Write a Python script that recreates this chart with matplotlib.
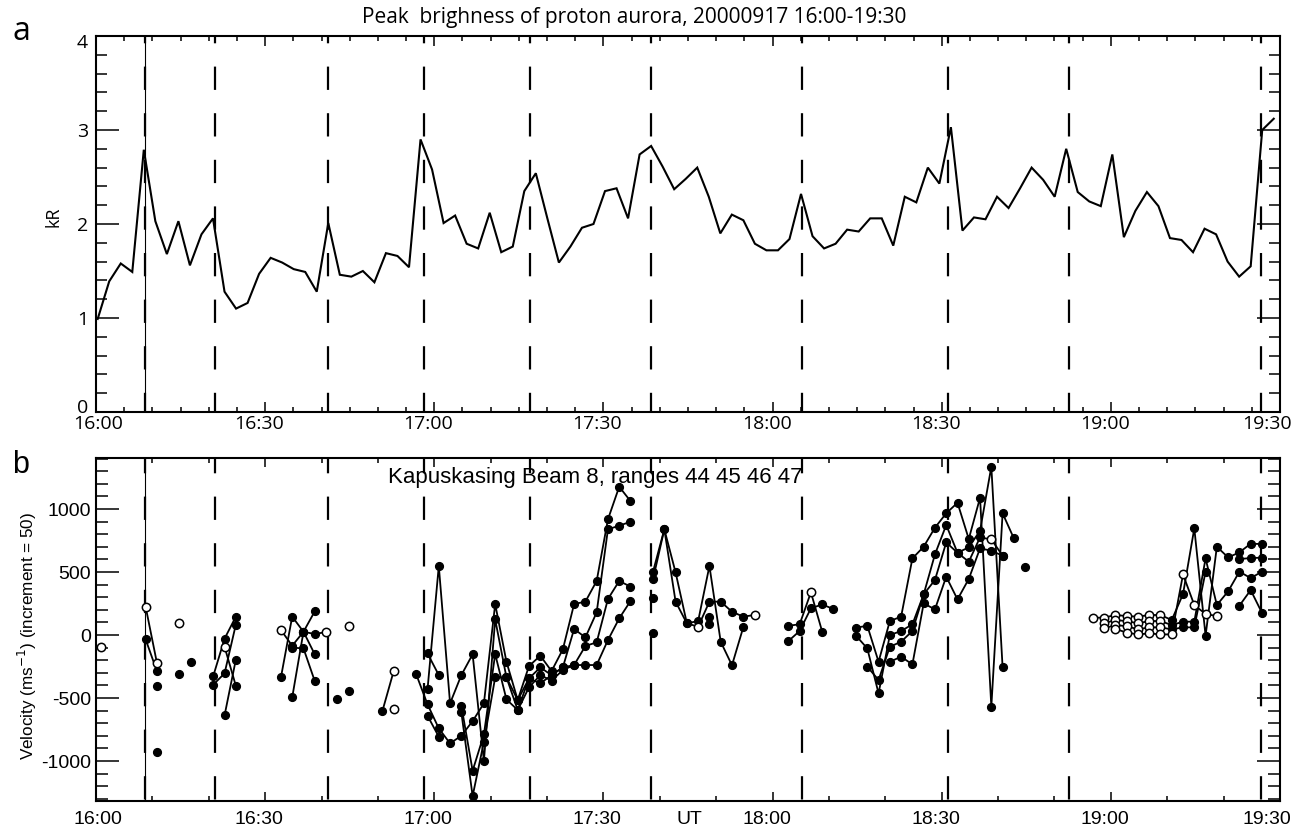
import numpy as np
import matplotlib
matplotlib.use("Agg")
import matplotlib.pyplot as plt
import matplotlib.transforms as mtrans
from matplotlib.ticker import MultipleLocator, FixedLocator

plt.rcParams['lines.scale_dashes'] = False
plt.rcParams['axes.unicode_minus'] = False

# ---------------- data ----------------
# panel a: peak brightness of proton aurora (kR), IMAGE cadence
bright_t0 = 0.3        # minutes after 16:00
bright_step = 2.045    # minutes
brightness = [0.99, 1.39, 1.58, 1.49, 2.79, 2.03, 1.68, 2.03, 1.56, 1.89,
              2.06, 1.28, 1.10, 1.16, 1.47, 1.64, 1.59, 1.52, 1.49, 1.28,
              2.01, 1.46, 1.44, 1.50, 1.38, 1.69, 1.66, 1.54, 2.90, 2.58,
              2.01, 2.09, 1.79, 1.74, 2.12, 1.70, 1.76, 2.35, 2.54, 2.06,
              1.59, 1.76, 1.96, 2.00, 2.35, 2.38, 2.06, 2.74, 2.83, 2.61,
              2.37, 2.48, 2.60, 2.29, 1.90, 2.10, 2.04, 1.79, 1.72, 1.72,
              1.84, 2.32, 1.87, 1.74, 1.79, 1.94, 1.92, 2.06, 2.06, 1.77,
              2.29, 2.23, 2.60, 2.43, 3.03, 1.93, 2.07, 2.05, 2.29, 2.17,
              2.38, 2.60, 2.47, 2.29, 2.80, 2.34, 2.24, 2.19, 2.74, 1.86,
              2.14, 2.34, 2.19, 1.85, 1.83, 1.70, 1.95, 1.89, 1.60, 1.44,
              1.55, 3.00, 3.12]

# panel b: Kapuskasing beam 8 velocities, 2-min scans (scan index k)
radar_t0 = 0.8
radar_step = 2.0
n_scans = 105

r44_k = ([0, 4, 5, 7, 10, 11, 12, 16, 17, 18, 19, 20, 22, 25, 26]
         + list(range(28, 48)) + list(range(49, 58)) + [61, 62, 63, 64]
         + list(range(67, 82)) + list(range(88, 104)))
r44_v = [-93, 225, -220, 98, -325, -29, 146, 40, -85, 26, 8, 24, 71, -603, -286,
         -312, -550, -741, -860, -799, -683, -542, 246, -212, -516, -246, -164,
         -286, -114, 246, 265, 429, 918, 1177, 1063,
         503, 839, 497, 93, 111, 548, -53, -240, 61,
         74, 85, 339, 27,
         58, 74, -212, 111, 146, 608, 701, 852, 966, 1050, 762, 1090, -569, 966, 767,
         138, 138, 159, 151, 146, 159, 159, 119, 325, 847, -5, 701, 616, 656, 725, 722]
r44_open = [0, 4, 5, 7, 16, 20, 22, 26, 63, 88, 89, 90, 91, 92, 93, 94]

r45_k = ([4, 5, 7, 10, 11, 12, 16, 17, 18, 19, 21, 26]
         + list(range(29, 48)) + list(range(49, 59)) + list(range(61, 66))
         + list(range(67, 81)) + [82] + list(range(89, 104)))
r45_v = [-34, -286, -310, -394, -304, 82, -336, 146, 26, 188, -511, -590,
         -431, 548, -542, -318, -153, -1000, 124, -336, -595, -344, -257, -318,
         -257, 48, -19, 180, 839, 868, 899,
         444, 839, 265, 93, 66, 265, 265, 185, 146, 159,
         -48, 32, 212, 243, 206,
         -5, -106, -463, 0, 32, 85, 323, 640, 873, 653, 696, 828, 1336, -257,
         542,
         93, 119, 111, 93, 111, 111, 79, 106, 106, 608, 238, 347, 503, 452, 503]
r45_open = [26, 53, 58, 89, 90, 91, 92, 93, 94]

r46_k = ([5, 8, 11, 12, 17, 18, 19, 22, 29, 30] + list(range(32, 48)) + [49, 54]
         + list(range(68, 81)) + list(range(89, 99)) + [101, 102, 103])
r46_v = [-402, -214, -93, -402, -100, -106, -365, -444, -146, -318,
         -561, -1077, -789, -151, -511, -595, -415, -318, -362, -278, -238, -87,
         -58, 286, 429, 384,
         291, 140,
         -251, -357, -93, -53, 32, 323, 437, 735, 653, 582, 775, 759, 630,
         53, 79, 71, 45, 61, 61, 45, 61, 61, 503,
         603, 611, 614]
r46_open = [11, 79, 89, 90, 91, 92, 93, 94]

r47_k = ([5, 11, 12, 17, 18, 19, 29, 30] + list(range(32, 48)) + [49, 54]
         + list(range(70, 81)) + list(range(90, 100)) + [101, 102, 103])
r47_v = [-926, -638, -196, -495, 26, -153, -640, -807,
         -614, -1278, -847, -336, -336, -516, -344, -384, -318, -257, -238, -238,
         -238, -40, 132, 270,
         13, 87,
         -212, -172, -233, 251, 204, 463, 283, 445, 688, 669, 630,
         48, 20, 5, 13, 5, 5, 481, 238, 167, 151,
         233, 357, 176]
r47_open = [90, 91, 92, 93, 94, 95, 96, 97, 98, 99]

# event times (minutes after 16:00)
event_solid = 8.7
event_dashed = [8.7, 21.1, 41.1, 58.2, 77.0, 98.4, 125.2, 151.2, 172.5, 206.6]

time_labels = ['16:00', '16:30', '17:00', '17:30', '18:00', '18:30', '19:00', '19:30']
time_ticks = [0, 30, 60, 90, 120, 150, 180, 210]

# ---------------- figure ----------------
W, H = 1302, 832
fig = plt.figure(figsize=(W / 100, H / 100), dpi=100)

def rect(l, t, r, b):
    return [l / W, 1 - b / H, (r - l) / W, (b - t) / H]

ax1 = fig.add_axes(rect(96, 36, 1280, 412))
ax2 = fig.add_axes(rect(96, 458, 1280, 801))

font_a = 'Open Sans'
font_b = 'Liberation Sans'
PX = 0.72  # points per pixel at 100 dpi


def shift(label, dx_px, dy_px):
    label.set_transform(label.get_transform() +
                        mtrans.ScaledTranslation(dx_px / 100, dy_px / 100, fig.dpi_scale_trans))


for ax in (ax1, ax2):
    for sp in ax.spines.values():
        sp.set_linewidth(1.5)
    ax.set_xlim(0, 210)
    ax.xaxis.set_major_locator(FixedLocator(time_ticks))
    ax.tick_params(which='both', direction='in', top=True, right=True, width=1.1)

# ---- panel a ----
bt = bright_t0 + bright_step * np.arange(len(brightness))
ax1.plot(bt, brightness, color='black', lw=1.5, solid_joinstyle='miter')
ax1.set_ylim(0, 4)
ax1.yaxis.set_major_locator(MultipleLocator(1))
ax1.yaxis.set_minor_locator(MultipleLocator(0.2))
ax1.xaxis.set_minor_locator(MultipleLocator(5))
ax1.tick_params(axis='y', which='major', length=23 * PX, pad=8 * PX)
ax1.tick_params(axis='y', which='minor', length=11 * PX)
ax1.tick_params(axis='x', which='major', length=10 * PX, pad=3 * PX)
ax1.tick_params(axis='x', which='minor', length=5 * PX)
ax1.set_yticks([0, 1, 2, 3, 4])
ylabs = ax1.set_yticklabels(['0', '1', '2', '3', '4'], fontfamily=font_a, fontsize=14)
# end labels sit inside the axis range, as in the original
shift(ylabs[0], 0, 6)
shift(ylabs[-1], 0, -5)

# ---- panel b ----
rt = radar_t0 + radar_step * np.arange(n_scans)
for ks, vs, op in ((r44_k, r44_v, r44_open), (r45_k, r45_v, r45_open),
                   (r46_k, r46_v, r46_open), (r47_k, r47_v, r47_open)):
    series = np.full(n_scans, np.nan)
    series[ks] = vs
    ax2.plot(rt, series, color='black', lw=1.3, zorder=3)
    filled = [k for k in ks if k not in op]
    ax2.plot(rt[filled], series[filled], 'o', color='black', ms=5.6, zorder=4)
    ax2.plot(rt[op], series[op], 'o', mfc='white', mec='black', mew=1.1, ms=6.0, zorder=5)

ax2.set_ylim(-1317, 1405)
ax2.yaxis.set_major_locator(FixedLocator([-1000, -500, 0, 500, 1000]))
ax2.yaxis.set_minor_locator(MultipleLocator(100))
ax2.xaxis.set_minor_locator(MultipleLocator(10))
ax2.tick_params(axis='y', which='major', length=23 * PX, pad=5 * PX)
ax2.tick_params(axis='y', which='minor', length=12 * PX)
ax2.tick_params(axis='x', which='major', length=9 * PX, pad=10 * PX)
ax2.tick_params(axis='x', which='minor', length=5 * PX)
ax2.set_yticklabels(['-1000', '-500', '0', '500', '1000'], fontfamily=font_b, fontsize=14)

# x tick labels: slightly left of their ticks, last one kept inside the figure
for ax, fam in ((ax1, font_a), (ax2, font_b)):
    labs = ax.set_xticklabels(time_labels, fontfamily=fam, fontsize=14)
    for i, lab in enumerate(labs):
        if i == 0:
            shift(lab, 2, 0)
        elif i == len(labs) - 1:
            shift(lab, -13, 0)
        else:
            shift(lab, -6, 0)

# ---- event lines ----
for ax, off in ((ax1, 16), (ax2, 8)):
    ylo, yhi = ax.get_ylim()
    for t in event_dashed:
        ax.plot([t, t], [yhi, ylo], color='black', lw=1.6,
                linestyle=(off * PX, (23.3 * PX, 23.3 * PX)), zorder=2, clip_on=False)
    ax.plot([event_solid, event_solid], [ylo, yhi], color='black', lw=0.8, zorder=2)
    ax.set_ylim(ylo, yhi)

# ---- texts ----
fig.text(634 / W, 1 - 17 / H, 'Peak  brighness of proton aurora, 20000917 16:00-19:30',
         ha='center', va='center', fontsize=15, family=font_a)
fig.text(12 / W, 1 - 40 / H, 'a', fontsize=23, family=font_a, va='baseline')
fig.text(12 / W, 1 - 473 / H, 'b', fontsize=22, family=font_b, va='baseline')
fig.text(54 / W, 1 - 217 / H, 'kR', rotation=90, ha='center', va='center',
         fontsize=13, family=font_a)
fig.text(27 / W, 1 - 636 / H, 'Velocity (ms$^{-1}$) (increment = 50)', rotation=90,
         ha='center', va='center', fontsize=12.3, family=font_b)
fig.text(595 / W, 1 - 477 / H, 'Kapuskasing Beam 8, ranges 44 45 46 47',
         ha='center', va='center', fontsize=16, family=font_b)
fig.text(689 / W, 1 - 820 / H, 'UT', ha='center', va='center', fontsize=14, family=font_b)

fig.savefig('out.png', dpi=100)
